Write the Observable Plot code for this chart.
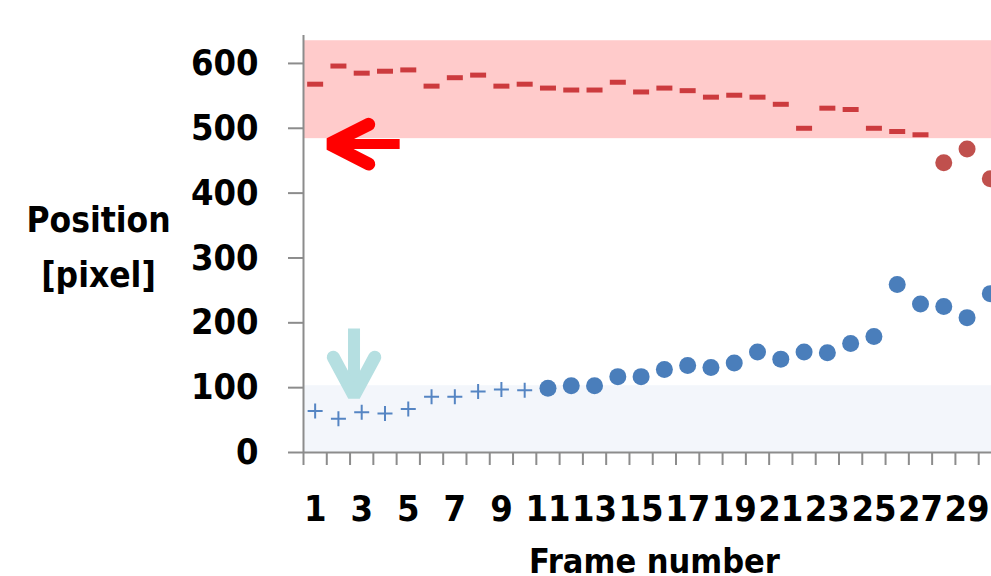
<!DOCTYPE html>
<html><head><meta charset="utf-8">
<script src="https://cdn.jsdelivr.net/npm/d3@7"></script>
<script src="https://cdn.jsdelivr.net/npm/@observablehq/plot@0.6"></script>
<style>
body{margin:0;background:#fff;}
#chart svg{display:block;font-family:'DejaVu Sans Condensed','DejaVu Sans',sans-serif;font-weight:bold;font-stretch:condensed;}
</style></head><body><div id="chart"></div>
<script>
// ---- data ----
const dashFrames  = [1,2,3,4,5,6,7,8,9,10,11,12,13,14,15,16,17,18,19,20,21,22,23,24,25,26,27];
const dashValues  = [568,596,585,588,590,565,578,582,565,568,562,559,559,571,556,562,558,548,551,548,537,500,531,529,500,495,490];
const redDotFrames = [28,29,30];
const redDotValues = [447,468,422];
const plusFrames  = [1,2,3,4,5,6,7,8,9,10];
const plusValues  = [64,52,62,60,67,86,86,94,97,96];
const blueDotFrames = [11,12,13,14,15,16,17,18,19,20,21,22,23,24,25,26,27,28,29,30];
const blueDotValues = [99,103,103,117,117,128,134,131,138,155,144,155,154,168,179,259,229,225,208,245];
const xTickBounds = [0.5,1.5,2.5,3.5,4.5,5.5,6.5,7.5,8.5,9.5,10.5,11.5,12.5,13.5,14.5,15.5,16.5,17.5,18.5,19.5,20.5,21.5,22.5,23.5,24.5,25.5,26.5,27.5,28.5,29.5];
const xTickLabels = [1,3,5,7,9,11,13,15,17,19,21,23,25,27,29];
const yTickLabels = [0,100,200,300,400,500,600];
const redBandRange  = [484,635];
const blueBandRange = [0,103];
// annotation arrows (data units: frame, position)
const redArrowShaft = [{x1:1.7, y1:475.7, x2:4.63, y2:475.7}];
const redArrowHead  = [{x:3.3, y:506},{x:1.62, y:475.7},{x:3.3, y:445}];
const tealArrowShaft = [{x1:2.67, y1:191.3, x2:2.67, y2:90}];
const tealArrowHead  = [{x:1.78, y:147},{x:2.67, y:87.5},{x:3.56, y:147}];

const dashes = dashFrames.map((f,i)=>({f, v:dashValues[i]}));
const redDots = redDotFrames.map((f,i)=>({f, v:redDotValues[i]}));
const pluses = plusFrames.map((f,i)=>({f, v:plusValues[i]}));
const blueDots = blueDotFrames.map((f,i)=>({f, v:blueDotValues[i]}));

const dashSymbol = {draw(ctx){ ctx.rect(-8,-2.5,16,5); }};
const plusSymbol = {draw(ctx){ ctx.moveTo(-7.5,0); ctx.lineTo(7.5,0); ctx.moveTo(0,-7.5); ctx.lineTo(0,7.5); }};

const axisGray = "#8c8c8c";

const chart = Plot.plot({
  width: 991, height: 576,
  marginLeft: 303, marginRight: 0, marginTop: 37, marginBottom: 124,
  x: {type:"linear", domain:[0.5, 30.05], axis:null, label:null},
  y: {domain:[0,640], axis:null, label:null},
  style: {background:"#fff", color:"#000"},
  marks: [
    Plot.rectY([redBandRange], {y1: d=>d[0], y2: d=>d[1], fill:"#ffcbcb"}),
    Plot.rectY([blueBandRange], {y1: d=>d[0], y2: d=>d[1], fill:"#f3f6fb"}),
    Plot.axisY(yTickLabels, {tickSize:15, tickPadding:30, fontSize:36, stroke:axisGray, strokeWidth:2, fill:"#000", label:null}),
    Plot.axisX(xTickBounds, {tickSize:13, tickFormat:()=>"", stroke:axisGray, strokeWidth:2, label:null}),
    Plot.axisX(xTickLabels, {tickSize:0, tickPadding:43, fontSize:36, fill:"#000", label:null}),
    Plot.ruleX([0.5], {y1:0, y2:643, stroke:axisGray, strokeWidth:2}),
    Plot.ruleY([0], {stroke:axisGray, strokeWidth:2}),
    Plot.dot(dashes, {x:"f", y:"v", symbol:dashSymbol, fill:"#cc3b3e", stroke:"none"}),
    Plot.dot(redDots, {x:"f", y:"v", r:8.5, fill:"#c0504d", stroke:"none"}),
    Plot.dot(pluses, {x:"f", y:"v", symbol:plusSymbol, fill:"none", stroke:"#5585c3", strokeWidth:2}),
    Plot.dot(blueDots, {x:"f", y:"v", r:8.5, fill:"#4a7ebb", stroke:"none"}),
    Plot.link(redArrowShaft, {x1:"x1", y1:"y1", x2:"x2", y2:"y2", stroke:"#ff0000", strokeWidth:10, strokeLinecap:"butt"}),
    Plot.line(redArrowHead, {x:"x", y:"y", stroke:"#ff0000", strokeWidth:13, strokeLinecap:"round", strokeLinejoin:"miter", curve:"linear"}),
    Plot.link(tealArrowShaft, {x1:"x1", y1:"y1", x2:"x2", y2:"y2", stroke:"#b5dfe1", strokeWidth:12, strokeLinecap:"butt"}),
    Plot.line(tealArrowHead, {x:"x", y:"y", stroke:"#b5dfe1", strokeWidth:13, strokeLinecap:"round", strokeLinejoin:"miter", curve:"linear"}),
    Plot.text(["Position\n[pixel]"], {frameAnchor:"left", dx:-205, dy:-3, fontSize:35, lineHeight:1.57, textAnchor:"middle", fill:"#000"}),
    Plot.text(["Frame number"], {frameAnchor:"bottom", dx:7, dy:120, fontSize:34, lineAnchor:"bottom", textAnchor:"middle", fill:"#000"})
  ]
});
document.getElementById("chart").appendChild(chart);
</script></body></html>
